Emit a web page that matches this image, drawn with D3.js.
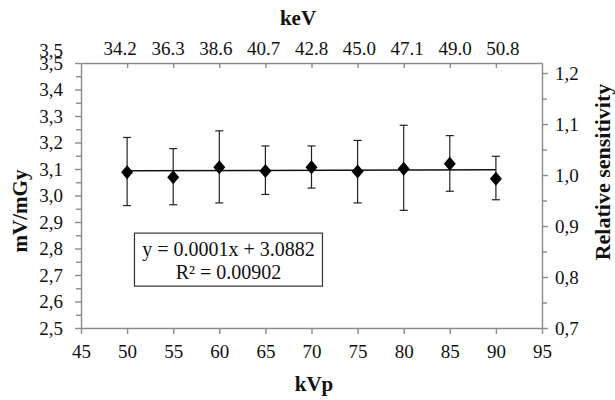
<!DOCTYPE html>
<meta charset="utf-8">
<style>
  body { margin: 0; background: #fff; }
  svg text { font-family: "Liberation Serif", "Times New Roman", serif; fill: #111; }
  .axis path, .axis line { stroke: #8c8c8c; stroke-width: 1.4; }
  .axis text { font-size: 19px; }
  .title { font-size: 21px; font-weight: bold; }
</style>
<svg id="chart" width="615" height="400"></svg>
<script src="https://d3js.org/d3.v7.min.js"></script>
<script>

// kVp vs sensitivity (mV/mGy), with error bars
var kvp = [50, 55, 60, 65, 70, 75, 80, 85, 90];
var sens = [3.088, 3.069, 3.107, 3.092, 3.107, 3.091, 3.101, 3.120, 3.063];
var errHi = [3.219, 3.177, 3.244, 3.187, 3.187, 3.208, 3.265, 3.226, 3.148];
var errLo = [2.962, 2.965, 2.972, 3.004, 3.028, 2.972, 2.944, 3.016, 2.984];
var kev = ["34.2", "36.3", "38.6", "40.7", "42.8", "45.0", "47.1", "49.0", "50.8"];
// linear fit end points (from y = 0.0001x + 3.0882)
var trendX = [50, 90];
var trendY = [3.0932, 3.0972];
var leftTicks = [2.5, 2.6, 2.7, 2.8, 2.9, 3.0, 3.1, 3.2, 3.3, 3.4, 3.5];
var rightTicks = [0.7, 0.8, 0.9, 1.0, 1.1, 1.2];
var bottomTicks = [45, 50, 55, 60, 65, 70, 75, 80, 85, 90, 95];
var eqLines = ["y = 0.0001x + 3.0882", "R² = 0.00902"];

var svg = d3.select("#chart"),
    margin = {top: 63, right: 73, bottom: 72, left: 81},
    width = +svg.attr("width") - margin.left - margin.right,
    height = +svg.attr("height") - margin.top - margin.bottom,
    g = svg.append("g").attr("transform", "translate(" + margin.left + "," + margin.top + ")");

var x = d3.scaleLinear().domain([45, 95]).range([0, width]);
var y = d3.scaleLinear().domain([2.5, 3.5]).range([height, 0]);
var y2 = d3.scaleLinear().domain([0.7, 1.2197]).range([height, 0]);
// keV labels sit on their own, slightly wider, evenly spaced row
var xk = d3.scalePoint().domain(kev).range([x(49.2), x(90.7)]);

function comma(d, n) { return d.toFixed(n).replace(".", ","); }

// minor ticks on the left and right axes
var minorLeft = d3.range(25, 35).map(function(d) { return d / 10 + 0.05; });
g.append("g").attr("class", "axis")
    .call(d3.axisLeft(y).tickValues(minorLeft).tickSize(5).tickFormat(""))
  .select(".domain").remove();
var minorRight = d3.range(7, 12).map(function(d) { return d / 10 + 0.05; });
g.append("g").attr("class", "axis")
    .attr("transform", "translate(" + width + ",0)")
    .call(d3.axisRight(y2).tickValues(minorRight).tickSize(5).tickFormat(""))
  .select(".domain").remove();

// left axis
var gl = g.append("g").attr("class", "axis")
    .call(d3.axisLeft(y).tickValues(leftTicks).tickSize(6).tickSizeOuter(0)
      .tickFormat(function(d) { return comma(d, 1); }));
gl.selectAll("text").attr("x", -18);
// duplicated top label as in the source figure
g.append("text")
    .attr("x", -18).attr("y", y(3.5) - 12).attr("dy", "0.32em")
    .attr("text-anchor", "end").style("font-size", "19px")
    .text(comma(3.5, 1));

// right axis
var gr = g.append("g").attr("class", "axis")
    .attr("transform", "translate(" + width + ",0)")
    .call(d3.axisRight(y2).tickValues(rightTicks).tickSize(6).tickSizeOuter(0)
      .tickFormat(function(d) { return comma(d, 1); }));
gr.selectAll("text").attr("x", 13);

// bottom axis
var gb = g.append("g").attr("class", "axis")
    .attr("transform", "translate(0," + height + ")")
    .call(d3.axisBottom(x).tickValues(bottomTicks).tickSize(6).tickSizeOuter(0));
gb.selectAll("text").attr("y", 17);

// top axis (keV): ticks at the kVp points, labels on their own row
g.append("g").attr("class", "axis")
    .call(d3.axisTop(x).tickValues(kvp).tickSize(-5).tickSizeOuter(0).tickFormat(""));
var gt = g.append("g").attr("class", "axis")
    .call(d3.axisTop(xk).tickSize(0).tickSizeOuter(0));
gt.select(".domain").remove();
gt.selectAll("text").attr("y", -8).attr("dy", 0);

// titles
svg.append("text").attr("class", "title")
    .attr("x", 298).attr("y", 25)
    .attr("text-anchor", "middle").text("keV");
svg.append("text").attr("class", "title")
    .attr("x", 314).attr("y", 391)
    .attr("text-anchor", "middle").text("kVp");
svg.append("text").attr("class", "title")
    .attr("transform", "translate(27,211) rotate(-90)")
    .attr("text-anchor", "middle").text("mV/mGy");
svg.append("text").attr("class", "title")
    .style("font-size", "22px")
    .attr("transform", "translate(610,172) rotate(-90)")
    .attr("text-anchor", "middle").text("Relative sensitivity");

// trend line
g.append("path")
    .datum(d3.zip(trendX, trendY))
    .attr("fill", "none")
    .attr("stroke", "#111")
    .attr("stroke-width", 1.5)
    .attr("d", d3.line().x(function(d) { return x(d[0]); }).y(function(d) { return y(d[1]); }));

// error bars
var eb = g.append("g").selectAll("g").data(kvp).enter().append("g");
eb.append("line")
    .attr("x1", function(d) { return x(d); }).attr("x2", function(d) { return x(d); })
    .attr("y1", function(d, i) { return y(errHi[i]); })
    .attr("y2", function(d, i) { return y(errLo[i]); })
    .attr("stroke", "#222").attr("stroke-width", 1.2);
[errHi, errLo].forEach(function(arr) {
  eb.append("line")
      .attr("x1", function(d) { return x(d) - 4; }).attr("x2", function(d) { return x(d) + 4; })
      .attr("y1", function(d, i) { return y(arr[i]); })
      .attr("y2", function(d, i) { return y(arr[i]); })
      .attr("stroke", "#222").attr("stroke-width", 1.2);
});

// diamond markers
g.append("g").selectAll("path").data(kvp).enter().append("path")
    .attr("transform", function(d, i) { return "translate(" + x(d) + "," + y(sens[i]) + ")"; })
    .attr("d", "M0,-7L6,0L0,7L-6,0Z")
    .attr("fill", "#000");

// equation box
var box = g.append("g").attr("transform", "translate(" + x(50.8) + "," + y(2.858) + ")");
box.append("rect")
    .attr("width", 188).attr("height", 53)
    .attr("fill", "#fff").attr("stroke", "#333").attr("stroke-width", 1.2);
box.selectAll("text").data(eqLines).enter().append("text")
    .attr("x", 94).attr("y", function(d, i) { return 23 + i * 23; })
    .attr("text-anchor", "middle").style("font-size", "20px")
    .text(function(d) { return d; });

</script>
